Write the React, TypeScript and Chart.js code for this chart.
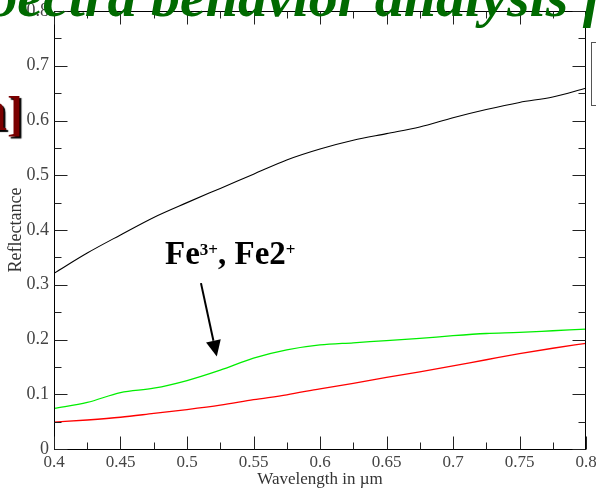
import React, { useEffect, useRef } from 'react';
import { Chart, registerables } from 'chart.js';

Chart.register(...registerables);

// Wavelength samples (µm)
const wavelengths = [0.4, 0.425, 0.45, 0.475, 0.5, 0.525, 0.55, 0.575, 0.6, 0.625, 0.65, 0.675, 0.7, 0.725, 0.75, 0.775, 0.8];
// Reflectance series
const blackSeries = [0.321, 0.358, 0.391, 0.423, 0.450, 0.476, 0.502, 0.528, 0.548, 0.564, 0.576, 0.588, 0.605, 0.620, 0.633, 0.643, 0.659];
const greenSeries = [0.074, 0.085, 0.103, 0.111, 0.125, 0.144, 0.166, 0.181, 0.190, 0.194, 0.198, 0.202, 0.207, 0.211, 0.213, 0.216, 0.219];
const redSeries = [0.049, 0.053, 0.058, 0.065, 0.072, 0.080, 0.090, 0.099, 0.110, 0.120, 0.131, 0.141, 0.152, 0.163, 0.174, 0.184, 0.193];

// Ticks
const xTickValues = [0.4, 0.45, 0.5, 0.55, 0.6, 0.65, 0.7, 0.75, 0.8];
const xTickLabels = ['0.4', '0.45', '0.5', '0.55', '0.6', '0.65', '0.7', '0.75', '0.8'];
const xMinorTicks = [0.425, 0.475, 0.525, 0.575, 0.625, 0.675, 0.725, 0.775];
const yTickValues = [0, 0.1, 0.2, 0.3, 0.4, 0.5, 0.6, 0.7, 0.8];
const yTickLabels = ['0', '0.1', '0.2', '0.3', '0.4', '0.5', '0.6', '0.7', '0.8'];
const yMinorTicks = [0.05, 0.15, 0.25, 0.35, 0.45, 0.55, 0.65, 0.75];

// Annotation arrow (data coordinates)
const arrowTail = { x: 0.5105, y: 0.303 };
const arrowHead = { x: 0.5224, y: 0.169 };

const SERIF = '"Liberation Serif", "Times New Roman", serif';

const frameTicksPlugin = {
  id: 'frameTicks',
  afterDatasetsDraw(chart: any) {
    const { ctx, chartArea, scales } = chart;
    const xs = scales.x;
    const ys = scales.y;
    const L = Math.round(chartArea.left) + 0.5;
    const R = Math.round(chartArea.right) - 0.5;
    const T = Math.round(chartArea.top) + 0.5;
    const B = Math.round(chartArea.bottom) + 0.5;
    ctx.save();
    ctx.strokeStyle = '#000';
    ctx.lineWidth = 1;
    ctx.strokeRect(L, T, R - L, B - T);
    ctx.strokeStyle = '#222';
    ctx.beginPath();
    const major = 13;
    const minor = 7;
    const drawX = (v: number, len: number) => {
      const px = Math.round(xs.getPixelForValue(v)) + 0.5;
      ctx.moveTo(px, B);
      ctx.lineTo(px, B - len);
      ctx.moveTo(px, T);
      ctx.lineTo(px, T + len);
    };
    const drawY = (v: number, len: number) => {
      const py = Math.round(ys.getPixelForValue(v)) + 0.5;
      ctx.moveTo(L, py);
      ctx.lineTo(L + len, py);
      ctx.moveTo(R, py);
      ctx.lineTo(R - len, py);
    };
    xTickValues.forEach((v) => drawX(v, major));
    xMinorTicks.forEach((v) => drawX(v, minor));
    yTickValues.forEach((v) => drawY(v, major));
    yMinorTicks.forEach((v) => drawY(v, minor));
    ctx.stroke();

    // annotation arrow
    const x1 = xs.getPixelForValue(arrowTail.x);
    const y1 = ys.getPixelForValue(arrowTail.y);
    const x2 = xs.getPixelForValue(arrowHead.x);
    const y2 = ys.getPixelForValue(arrowHead.y);
    const ang = Math.atan2(y2 - y1, x2 - x1);
    const headLen = 16;
    const headHalf = 7.5;
    const bx = x2 - headLen * Math.cos(ang);
    const by = y2 - headLen * Math.sin(ang);
    ctx.strokeStyle = '#000';
    ctx.lineWidth = 2;
    ctx.beginPath();
    ctx.moveTo(x1, y1);
    ctx.lineTo(bx, by);
    ctx.stroke();
    ctx.fillStyle = '#000';
    ctx.beginPath();
    ctx.moveTo(x2, y2);
    ctx.lineTo(bx + headHalf * Math.sin(ang), by - headHalf * Math.cos(ang));
    ctx.lineTo(bx - headHalf * Math.sin(ang), by + headHalf * Math.cos(ang));
    ctx.closePath();
    ctx.fill();
    ctx.restore();
  },
};

function toPoints(vals: number[]) {
  return wavelengths.map((w, i) => ({ x: w, y: vals[i] }));
}

export default function App() {
  const canvasRef = useRef<HTMLCanvasElement | null>(null);

  useEffect(() => {
    if (!canvasRef.current) return;
    const chart = new Chart(canvasRef.current, {
      type: 'line',
      data: {
        datasets: [
          {
            data: toPoints(blackSeries),
            borderColor: '#000000',
            borderWidth: 1.1,
            pointRadius: 0,
            cubicInterpolationMode: 'monotone',
          },
          {
            data: toPoints(greenSeries),
            borderColor: '#00ee00',
            borderWidth: 1.3,
            pointRadius: 0,
            cubicInterpolationMode: 'monotone',
          },
          {
            data: toPoints(redSeries),
            borderColor: '#ff0000',
            borderWidth: 1.3,
            pointRadius: 0,
            cubicInterpolationMode: 'monotone',
          },
        ],
      },
      options: {
        animation: false,
        responsive: false,
        devicePixelRatio: 1,
        layout: { padding: { top: 11, right: 10, left: 0, bottom: 0 } },
        plugins: {
          legend: { display: false },
          tooltip: { enabled: false },
        },
        scales: {
          x: {
            type: 'linear',
            min: 0.4,
            max: 0.8,
            grid: { display: false, drawTicks: false },
            border: { display: false },
            afterBuildTicks: (scale: any) => {
              scale.ticks = xTickValues.map((v) => ({ value: v }));
            },
            afterFit: (scale: any) => {
              scale.height = 42;
              scale.paddingLeft = 0;
              scale.paddingRight = 0;
              scale.paddingTop = 0;
              scale.paddingBottom = 0;
            },
            ticks: {
              padding: 3,
              maxRotation: 0,
              autoSkip: false,
              color: '#444',
              font: { family: SERIF, size: 17 },
              callback: (_v: any, i: number) => xTickLabels[i],
            },
            title: {
              display: true,
              text: 'Wavelength in µm',
              color: '#333',
              font: { family: SERIF, size: 17 },
              padding: { top: 0, bottom: 1 },
            },
          },
          y: {
            type: 'linear',
            min: 0,
            max: 0.8,
            grid: { display: false, drawTicks: false },
            border: { display: false },
            afterBuildTicks: (scale: any) => {
              scale.ticks = yTickValues.map((v) => ({ value: v }));
            },
            afterFit: (scale: any) => {
              scale.width = 54;
              scale.paddingLeft = 0;
              scale.paddingRight = 0;
              scale.paddingTop = 0;
              scale.paddingBottom = 0;
            },
            ticks: {
              padding: 5,
              autoSkip: false,
              color: '#444',
              font: { family: SERIF, size: 18 },
              callback: (_v: any, i: number) => yTickLabels[i],
            },
            title: {
              display: true,
              text: 'Reflectance',
              color: '#333',
              font: { family: SERIF, size: 18 },
              padding: { top: 5, bottom: 0 },
            },
          },
        },
      },
      plugins: [frameTicksPlugin],
    } as any);
    return () => chart.destroy();
  }, []);

  return (
    <div
      style={{
        position: 'absolute',
        left: 0,
        top: 0,
        width: 596,
        height: 491,
        overflow: 'hidden',
        background: '#fff',
      }}
    >
      <canvas ref={canvasRef} width={596} height={491} style={{ position: 'absolute', left: 0, top: 0, width: 596, height: 491 }} />
      <div
        style={{
          position: 'absolute',
          left: -44,
          top: -32,
          fontFamily: SERIF,
          fontSize: 58,
          lineHeight: '58px',
          fontWeight: 'bold',
          fontStyle: 'italic',
          color: '#006a00',
          whiteSpace: 'nowrap',
        }}
      >
        Spectra behavior analysis for
      </div>
      <div
        style={{
          position: 'absolute',
          right: 573,
          top: 80,
          fontFamily: SERIF,
          fontSize: 60,
          lineHeight: '60px',
          fontWeight: 'bold',
          color: '#7a0000',
          whiteSpace: 'nowrap',
          textShadow: '2px 2px 1px #000',
        }}
      >
        <span>n</span>
        <span style={{ fontSize: 48 }}>]</span>
      </div>
      <div
        style={{
          position: 'absolute',
          left: 591,
          top: 42,
          width: 12,
          height: 62,
          border: '1px solid #555',
          background: '#fff',
        }}
      />
      <div
        style={{
          position: 'absolute',
          left: 165,
          top: 237,
          fontFamily: SERIF,
          fontSize: 33,
          lineHeight: '33px',
          fontWeight: 'bold',
          color: '#000',
          whiteSpace: 'nowrap',
        }}
      >
        Fe<span style={{ fontSize: 17, position: 'relative', top: -9 }}>3+</span>, Fe2
        <span style={{ fontSize: 17, position: 'relative', top: -9 }}>+</span>
      </div>
    </div>
  );
}
